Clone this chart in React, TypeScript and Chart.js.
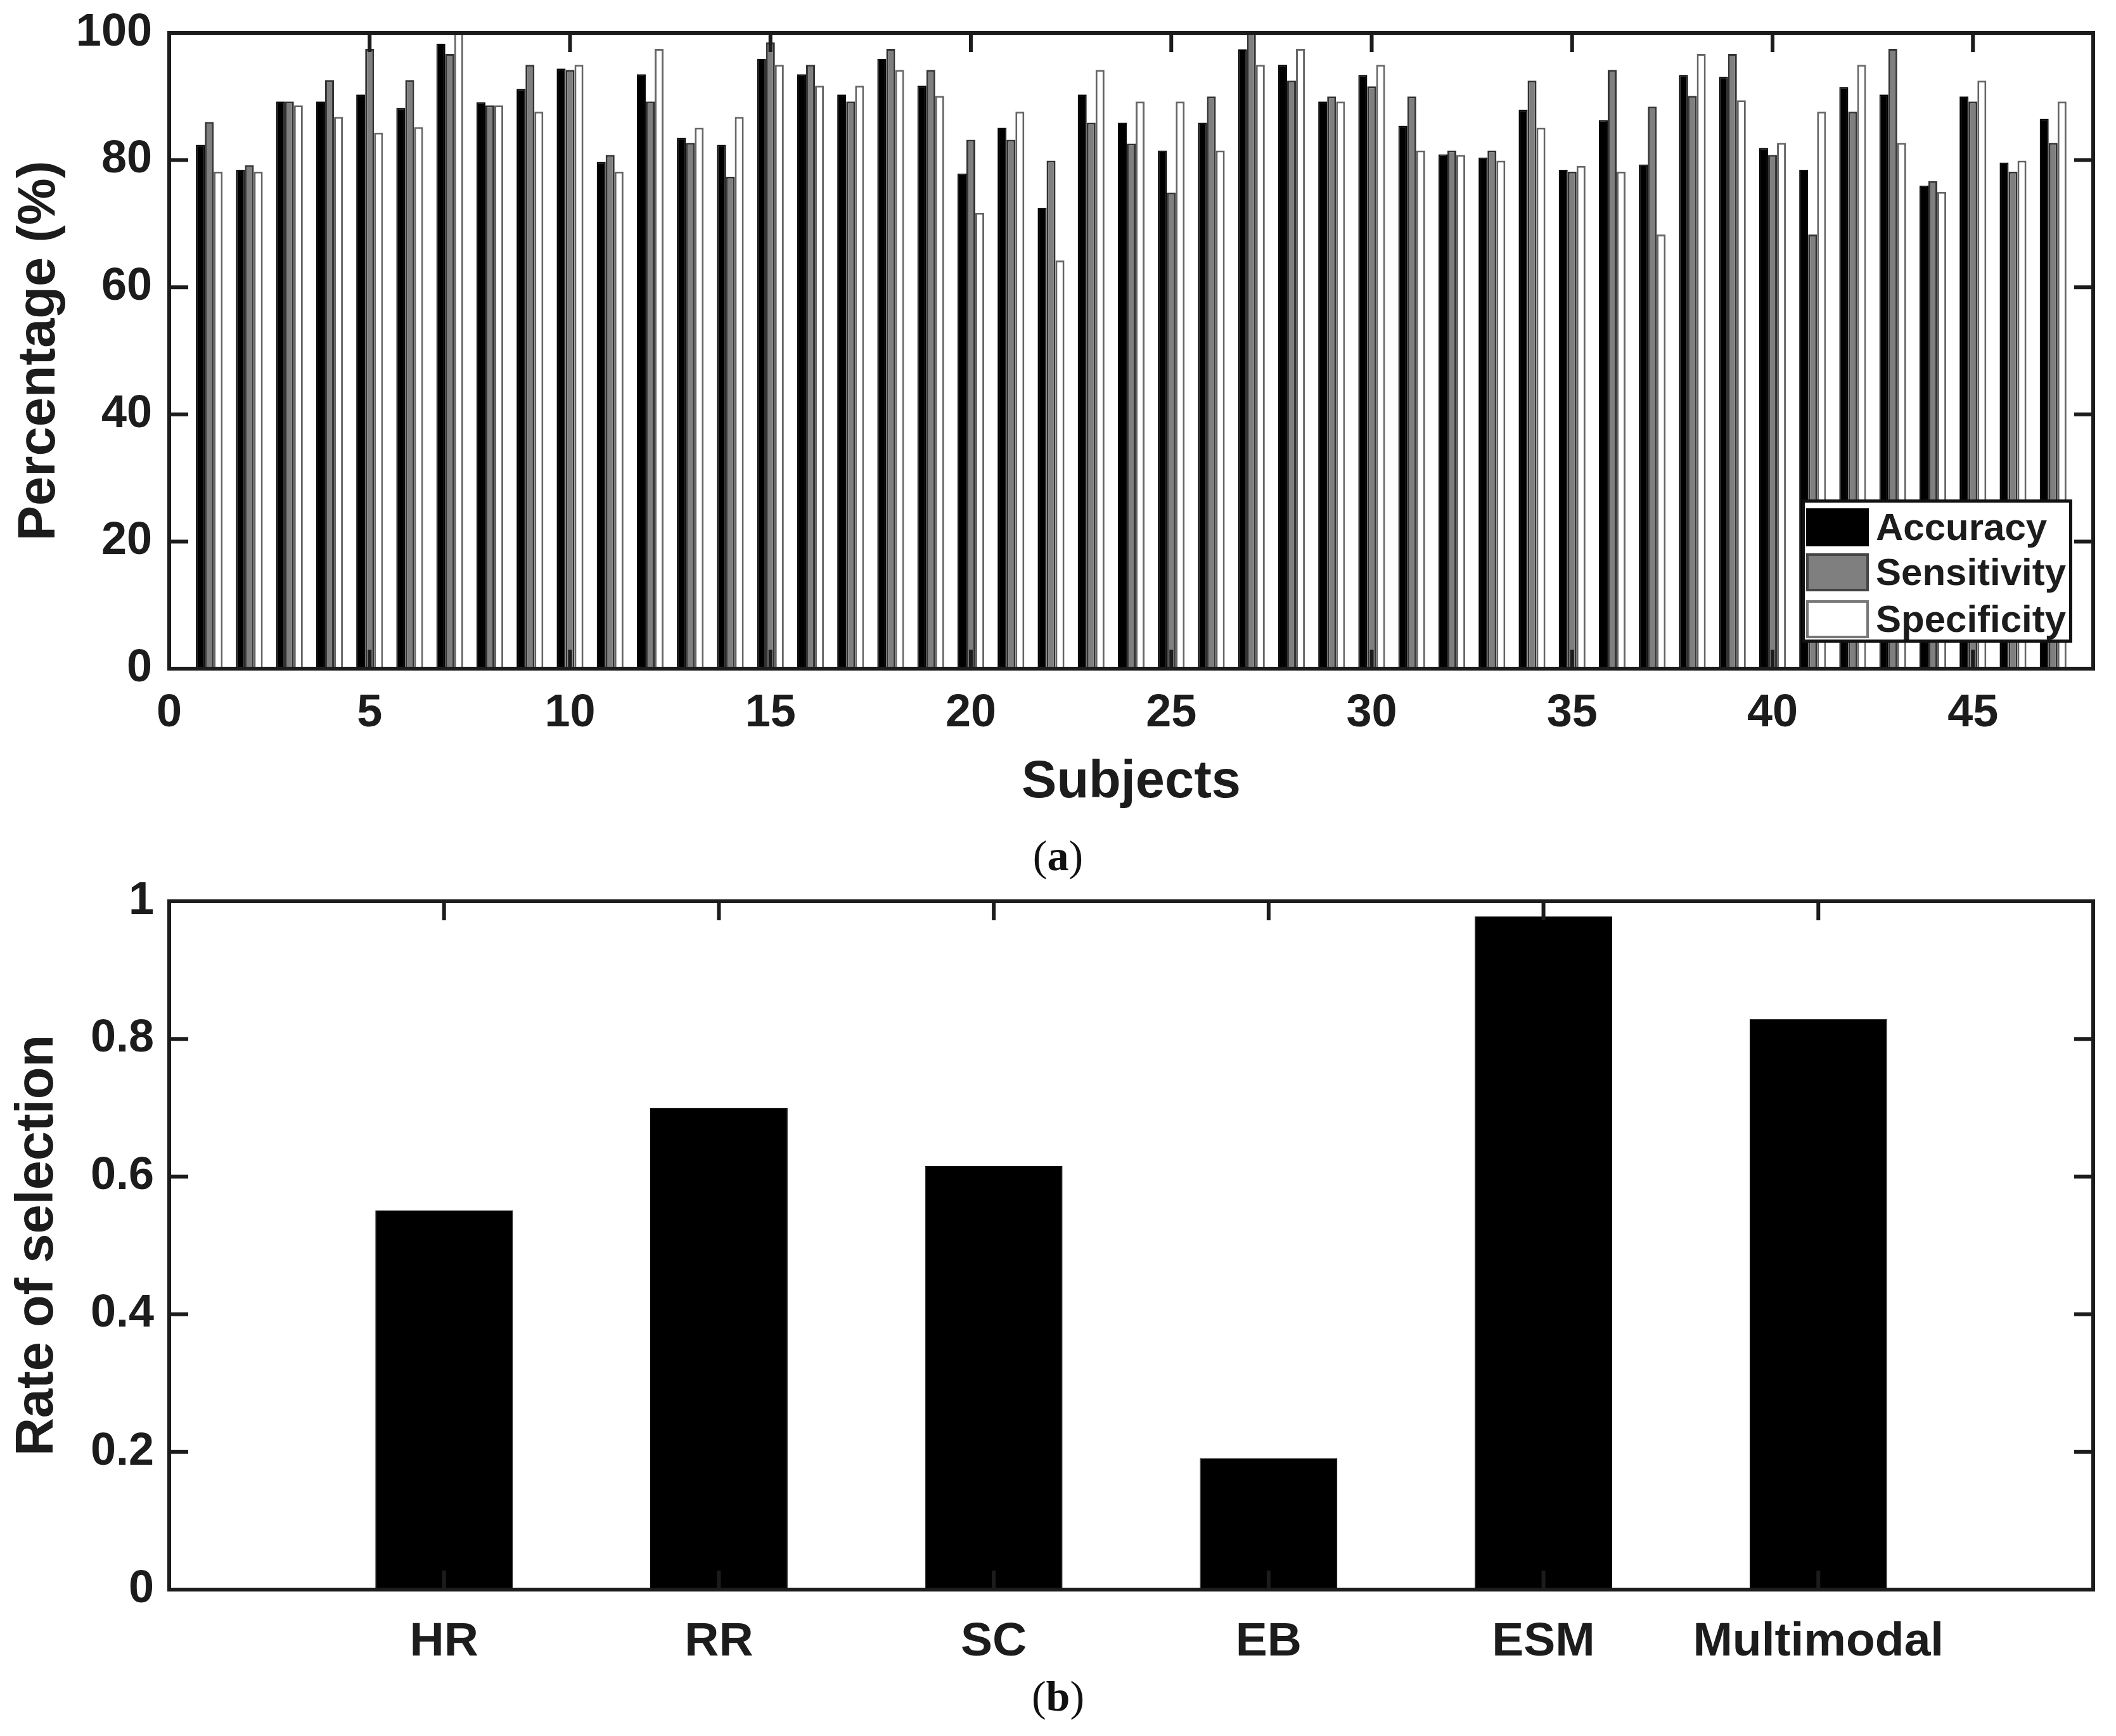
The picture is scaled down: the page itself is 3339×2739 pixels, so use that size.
import { useEffect, useRef } from 'react'
import Chart from 'chart.js/auto'

// (a) per-subject classification results, subjects 1..47
const accuracy = [
  82.4, 78.5, 89.2, 89.2, 90.3, 88.2, 98.3, 89.1, 91.2, 94.4,
  79.7, 93.5, 83.5, 82.4, 95.9, 93.5, 90.3, 95.9, 91.7, 77.9,
  85.1, 72.5, 90.3, 85.9, 81.5, 85.9, 97.4, 95.0, 89.2, 93.4,
  85.4, 80.9, 80.4, 87.9, 78.5, 86.3, 79.3, 93.4, 93.1, 81.9,
  78.5, 91.5, 90.3, 76.0, 90.0, 79.6, 86.5,
]
const sensitivity = [
  86.0, 79.2, 89.2, 92.6, 97.5, 92.6, 96.7, 88.6, 95.0, 94.2,
  80.8, 89.2, 82.7, 77.4, 98.5, 95.0, 89.2, 97.5, 94.2, 83.2,
  83.2, 79.9, 85.9, 82.6, 74.9, 90.0, 100, 92.5, 90.0, 91.6,
  90.0, 81.5, 81.5, 92.5, 78.2, 94.2, 88.4, 90.1, 96.7, 80.8,
  68.3, 87.6, 97.5, 76.7, 89.2, 78.2, 82.7,
]
const specificity = [
  78.2, 78.2, 88.6, 86.8, 84.3, 85.2, 100, 88.6, 87.6, 95.0,
  78.2, 97.5, 85.1, 86.8, 95.0, 91.7, 91.7, 94.2, 90.1, 71.7,
  87.6, 64.2, 94.2, 89.2, 89.2, 81.5, 95.0, 97.5, 89.2, 95.0,
  81.5, 80.8, 79.9, 85.1, 79.1, 78.2, 68.3, 96.7, 89.4, 82.7,
  87.6, 95.0, 82.7, 75.0, 92.5, 79.9, 89.2,
]

// (b) rate of selection per modality
const modalities = ['HR', 'RR', 'SC', 'EB', 'ESM', 'Multimodal']
const selectionRate = [0.551, 0.7, 0.615, 0.191, 0.978, 0.829]

const W = 3339
const TOP_H = 1300
const BOTTOM_TOP = 1300
const BOTTOM_H = 2739 - BOTTOM_TOP
const PLOT_LEFT = 267
const PLOT_RIGHT_PAD = 36

const INK = '#1c1c1c'
const SANS = "'Liberation Sans', Arial, sans-serif"
// small lineHeight keeps the label overflow from pushing the plot top down
const tickFont = { family: SANS, size: 72, weight: 'bold' as const, lineHeight: 0.6 }
const titleFont = { family: SANS, size: 83, weight: 'bold' as const }

// MATLAB style box with inward tick marks
const boxPlugin = {
  id: 'boxFrame',
  afterDatasetsDraw(chart: any) {
    const { ctx, chartArea: a, scales } = chart
    const len = 30
    ctx.save()
    ctx.strokeStyle = INK
    ctx.lineWidth = 6
    ctx.beginPath()
    scales.x.ticks.forEach((t: any) => {
      const px = scales.x.getPixelForValue(t.value)
      ctx.moveTo(px, a.top)
      ctx.lineTo(px, a.top + len)
      ctx.moveTo(px, a.bottom)
      ctx.lineTo(px, a.bottom - len)
    })
    scales.y.ticks.forEach((t: any) => {
      const py = scales.y.getPixelForValue(t.value)
      ctx.moveTo(a.left, py)
      ctx.lineTo(a.left + len, py)
      ctx.moveTo(a.right, py)
      ctx.lineTo(a.right - len, py)
    })
    ctx.stroke()
    ctx.strokeRect(a.left, a.top, a.right - a.left, a.bottom - a.top)
    ctx.restore()
  },
}

const toPoints = (arr: number[]) => arr.map((v, i) => ({ x: i + 1, y: v }))

export default function App() {
  const topRef = useRef<HTMLCanvasElement>(null)
  const bottomRef = useRef<HTMLCanvasElement>(null)

  useEffect(() => {
    if (!topRef.current || !bottomRef.current) return

    const top = new Chart(topRef.current, {
      type: 'bar',
      data: {
        datasets: [
          { label: 'Accuracy', data: toPoints(accuracy), backgroundColor: '#000', borderColor: '#000', borderWidth: 2 },
          { label: 'Sensitivity', data: toPoints(sensitivity), backgroundColor: '#7f7f7f', borderColor: '#333', borderWidth: 3 },
          { label: 'Specificity', data: toPoints(specificity), backgroundColor: '#fff', borderColor: '#666', borderWidth: 3 },
        ],
      },
      options: {
        animation: false,
        responsive: false,
        devicePixelRatio: 1,
        categoryPercentage: 0.667,
        barPercentage: 1,
        layout: { padding: { top: 52, right: PLOT_RIGHT_PAD, left: 0, bottom: 0 } },
        plugins: { legend: { display: false }, tooltip: { enabled: false } },
        scales: {
          x: {
            type: 'linear',
            min: 0,
            max: 48,
            offset: false,
            grid: { display: false, drawTicks: false, offset: false },
            border: { display: false },
            ticks: { stepSize: 5, includeBounds: false, font: { ...tickFont, lineHeight: 1.2 }, color: INK, padding: 28, maxRotation: 0 },
            title: { display: true, text: 'Subjects', font: titleFont, color: INK, padding: { top: 0, bottom: 15 } },
            afterFit: (s: any) => { s.height = TOP_H - 1055 },
          },
          y: {
            min: 0,
            max: 100,
            grid: { display: false, drawTicks: false },
            border: { display: false },
            ticks: { stepSize: 20, font: tickFont, color: INK, padding: 27 },
            title: { display: true, text: 'Percentage (%)', font: titleFont, color: INK, padding: { top: 13, bottom: 0 } },
            afterFit: (s: any) => { s.width = PLOT_LEFT },
          },
        },
      } as any,
      plugins: [boxPlugin],
    })

    const bottom = new Chart(bottomRef.current, {
      type: 'bar',
      data: {
        datasets: [
          { label: 'Rate of selection', data: toPoints(selectionRate), backgroundColor: '#000', borderColor: '#000', borderWidth: 1 },
        ],
      },
      options: {
        animation: false,
        responsive: false,
        devicePixelRatio: 1,
        categoryPercentage: 0.5,
        barPercentage: 1,
        layout: { padding: { top: 1422 - BOTTOM_TOP, right: PLOT_RIGHT_PAD, left: 0, bottom: 0 } },
        plugins: { legend: { display: false }, tooltip: { enabled: false } },
        scales: {
          x: {
            type: 'linear',
            min: 0,
            max: 7,
            offset: false,
            grid: { display: false, drawTicks: false, offset: false },
            border: { display: false },
            afterBuildTicks: (s: any) => { s.ticks = modalities.map((_, i) => ({ value: i + 1 })) },
            ticks: {
              font: { family: SANS, size: 75, weight: 'bold' },
              color: INK,
              padding: 38,
              maxRotation: 0,
              autoSkip: false,
              callback: (v: any) => modalities[v - 1] ?? '',
            },
            afterFit: (s: any) => { s.height = 2739 - 2508 },
          },
          y: {
            min: 0,
            max: 1,
            grid: { display: false, drawTicks: false },
            border: { display: false },
            ticks: { stepSize: 0.2, font: tickFont, color: INK, padding: 24, callback: (v: any) => String(Number(Number(v).toFixed(1))) },
            title: { display: true, text: 'Rate of selection', font: titleFont, color: INK, padding: { top: 10, bottom: 0 } },
            afterFit: (s: any) => { s.width = PLOT_LEFT },
          },
        },
      } as any,
      plugins: [boxPlugin],
    })

    return () => {
      top.destroy()
      bottom.destroy()
    }
  }, [])

  const caption = (letter: string, y: number) => (
    <div style={{ position: 'absolute', left: 0, top: y - 36, width: W, textAlign: 'center', fontFamily: "'Liberation Serif', 'Times New Roman', serif", fontSize: 68, lineHeight: '72px', color: '#111' }}>
      (<b>{letter}</b>)
    </div>
  )

  const legendRows = [
    { label: 'Accuracy', fill: '#000', border: '#000' },
    { label: 'Sensitivity', fill: '#7f7f7f', border: '#444' },
    { label: 'Specificity', fill: '#fff', border: '#777' },
  ]
  const rowTops = [9, 80, 154]

  return (
    <div style={{ position: 'absolute', left: 0, top: 0, width: W, height: 2739, background: '#fff', overflow: 'hidden' }}>
      <canvas ref={topRef} width={W} height={TOP_H} style={{ position: 'absolute', left: 0, top: 0, width: W, height: TOP_H }} />
      <canvas ref={bottomRef} width={W} height={BOTTOM_H} style={{ position: 'absolute', left: 0, top: BOTTOM_TOP, width: W, height: BOTTOM_H }} />
      {caption('a', 1350)}
      {caption('b', 2676)}
      <div style={{ position: 'absolute', left: 2843, top: 788, width: 427, height: 226, boxSizing: 'border-box', border: '5px solid #111', background: '#fff' }}>
        {legendRows.map((r, i) => (
          <div key={r.label} style={{ position: 'absolute', left: 2, top: rowTops[i], height: 60, display: 'flex', alignItems: 'center' }}>
            <div style={{ width: 99, height: 60, boxSizing: 'border-box', background: r.fill, border: `4px solid ${r.border}` }} />
            <span style={{ marginLeft: 11, fontFamily: SANS, fontWeight: 'bold', fontSize: 60, lineHeight: '60px', color: INK }}>{r.label}</span>
          </div>
        ))}
      </div>
    </div>
  )
}
